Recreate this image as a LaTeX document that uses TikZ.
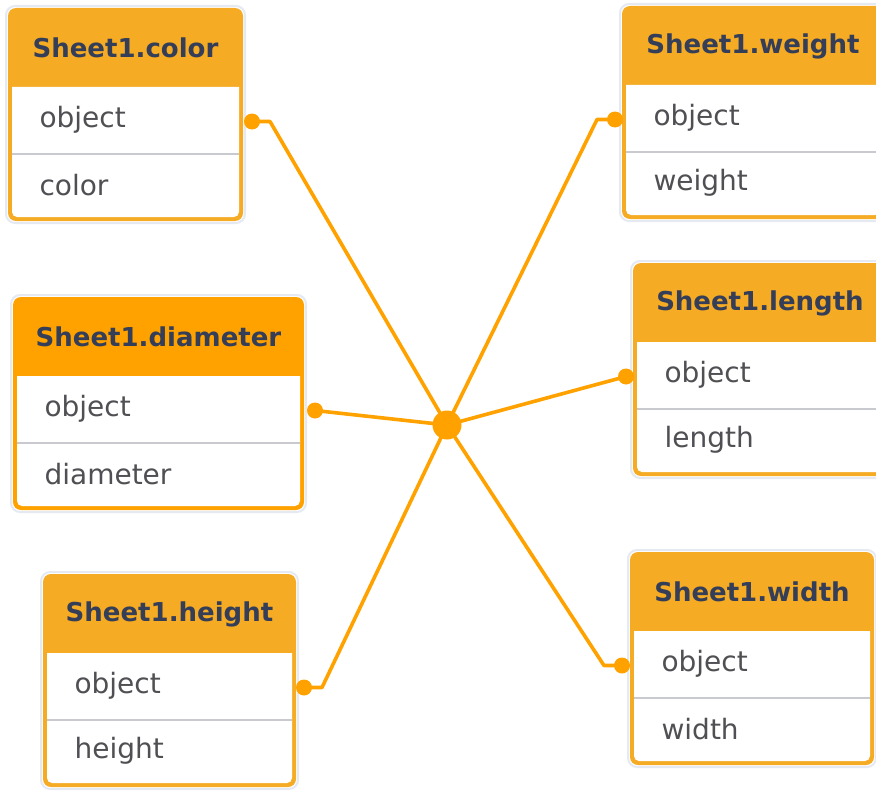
\documentclass[tikz,border=0pt]{standalone}
\usepackage{fontspec}
\setmainfont{DejaVu Sans}
\usepackage{tikz}
\usetikzlibrary{
  positioning,
  calc
}
\definecolor{sheetgold}{RGB}{245,171,35}
\definecolor{pickgold}{RGB}{255,162,0}
\definecolor{linkorange}{RGB}{255,162,0}
\definecolor{titleink}{RGB}{52,62,88}
\definecolor{fieldgrey}{RGB}{80,80,84}
\definecolor{rulegrey}{RGB}{200,202,208}
\definecolor{shadowblue}{RGB}{228,233,242}

\begin{document}
\begin{tikzpicture}[x=1pt, y=-1pt,
  title/.style={font=\bfseries\fontsize{26}{26}\selectfont, text=titleink},
  field/.style={anchor=west, font=\fontsize{28}{28}\selectfont, text=fieldgrey},
  link/.style={draw=linkorange, line width=3.6pt, line join=round}]

  % Frame of the picture (tables run off the right side)
  \useasboundingbox (0,0) rectangle (876,792);
  \clip (0,0) rectangle (876,792);

  % Draw the six sheet tables: header + two key rows each
  \foreach \id/\lx/\ty/\rx/\fld/\hue in {
      color/8/8/243/color/sheetgold,
      diameter/13/297/304/diameter/pickgold,
      height/43/574/296/height/sheetgold,
      weight/622/6/884/weight/sheetgold,
      length/633/263/887/length/sheetgold,
      width/630/552/874/width/sheetgold}{
    \draw[shadowblue, line width=2pt, rounded corners=9pt]
      (\lx-2,\ty-2) rectangle (\rx+2,\ty+215);
    \fill[\hue, rounded corners=8pt] (\lx,\ty) rectangle (\rx,\ty+213);
    \fill[white] (\lx+4,\ty+79) -- (\rx-4,\ty+79)
      {[rounded corners=5pt] -- (\rx-4,\ty+209) -- (\lx+4,\ty+209)} -- cycle;
    \draw[rulegrey, line width=1.5pt] (\lx+4,\ty+146) -- (\rx-4,\ty+146);
    \node[title] (\id-head) at ({(\lx+\rx)/2},\ty+40) {Sheet1.\fld};
    \node[field] (\id-obj) at (\lx+28,\ty+112) {object};
    \node[field] (\id-val) at (\lx+28,\ty+177) {\fld};
    \coordinate (\id-w) at (\lx,\ty+113.5);
    \coordinate (\id-e) at (\rx,\ty+113.5);
  }

  % Hub where all object keys meet
  \node[circle, fill=linkorange, minimum size=29pt, inner sep=0pt] (hub) at (447,425) {};

  % Links from the hub to each object key
  \draw[link] ($(color-e)+(9,0)$) -- ++(18,0) -- (hub.center);
  \draw[link] ($(diameter-e)+(11,0)$) -- (hub.center);
  \draw[link] ($(height-e)+(8,0)$) -- ++(18,0) -- (hub.center);
  \draw[link] ($(weight-w)+(-7,0)$) -- ++(-18,0) -- (hub.center);
  \draw[link] ($(length-w)+(-7,0)$) -- (hub.center);
  \draw[link] ($(width-w)+(-8,0)$) -- ++(-18,0) -- (hub.center);

  % Key dots on the table edges
  \fill[linkorange] ($(color-e)+(9,0)$) circle (8pt);
  \fill[linkorange] ($(diameter-e)+(11,0)$) circle (8pt);
  \fill[linkorange] ($(height-e)+(8,0)$) circle (8pt);
  \fill[linkorange] ($(weight-w)+(-7,0)$) circle (8pt);
  \fill[linkorange] ($(length-w)+(-7,0)$) circle (8pt);
  \fill[linkorange] ($(width-w)+(-8,0)$) circle (8pt);
\end{tikzpicture}
\end{document}
